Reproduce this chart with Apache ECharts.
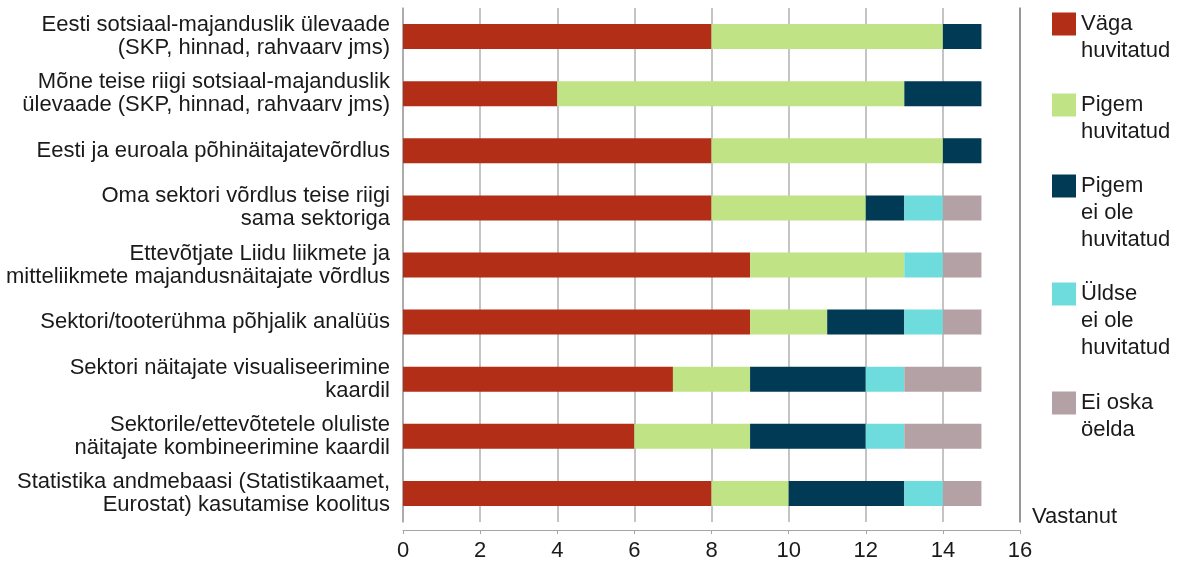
<!DOCTYPE html>
<html>
<head>
<meta charset="utf-8">
<script src="https://cdn.jsdelivr.net/npm/echarts@6/dist/echarts.min.js"></script>
<style>
  html, body { margin: 0; padding: 0; background: #ffffff; }
  #chart { width: 1184px; height: 562px; }
</style>
</head>
<body>
<div id="chart"></div>
<script>
// ---- data ----
const categories = [
  "Eesti sotsiaal-majanduslik ülevaade\n(SKP, hinnad, rahvaarv jms)",
  "Mõne teise riigi sotsiaal-majanduslik\nülevaade (SKP, hinnad, rahvaarv jms)",
  "Eesti ja euroala põhinäitajatevõrdlus",
  "Oma sektori võrdlus teise riigi\nsama sektoriga",
  "Ettevõtjate Liidu liikmete ja\nmitteliikmete majandusnäitajate võrdlus",
  "Sektori/tooterühma põhjalik analüüs",
  "Sektori näitajate visualiseerimine\nkaardil",
  "Sektorile/ettevõtetele oluliste\nnäitajate kombineerimine kaardil",
  "Statistika andmebaasi (Statistikaamet,\nEurostat) kasutamise koolitus"
];
const seriesNames = [
  "Väga\nhuvitatud",
  "Pigem\nhuvitatud",
  "Pigem\nei ole\nhuvitatud",
  "Üldse\nei ole\nhuvitatud",
  "Ei oska\nöelda"
];
const vagaHuvitatud    = [8, 4, 8, 8, 9, 9, 7, 6, 8];
const pigemHuvitatud   = [6, 9, 6, 4, 4, 2, 2, 3, 2];
const pigemEiOle       = [1, 2, 1, 1, 0, 2, 3, 3, 3];
const uldseEiOle       = [0, 0, 0, 1, 1, 1, 1, 1, 1];
const eiOska           = [0, 0, 0, 1, 1, 1, 2, 2, 1];
const xTicks = { min: 0, max: 16, interval: 2 };
const axisTitle = "Vastanut";

// ---- styling ----
const colors = ["#B22E17", "#C0E386", "#003A54", "#6EDBDC", "#B3A1A6"];
const FONT = "'Liberation Sans', Arial, sans-serif";
const values = [vagaHuvitatud, pigemHuvitatud, pigemEiOle, uldseEiOle, eiOska];

const LH = 27;
const iconCenters = [24, 105, 186, 294, 403];

const legends = seriesNames.map((name, i) => {
  const n = name.split("\n").length;
  return {
    data: [name],
    orient: "vertical",
    left: 1052,
    top: iconCenters[i] - (2 * n - 1) * LH / 2 + 11.5 - 11.5,
    padding: 0,
    itemWidth: 24,
    itemHeight: 23,
    icon: "rect",
    selectedMode: false,
    // blank lines above so that the first text line sits level with the square
    formatter: (nm) => " \n".repeat(n - 1) + nm,
    textStyle: {
      fontFamily: FONT,
      fontSize: 22,
      color: "#1a1a1a",
      lineHeight: LH
    }
  };
});

const chart = echarts.init(document.getElementById("chart"), null, { renderer: "canvas" });
chart.setOption({
  animation: false,
  backgroundColor: "#ffffff",
  color: colors,
  textStyle: { fontFamily: FONT },
  title: {
    text: axisTitle,
    left: 1032,
    top: 506,
    padding: 0,
    textStyle: { fontFamily: FONT, fontSize: 22, fontWeight: "normal", color: "#1a1a1a" }
  },
  legend: legends,
  grid: { left: 403, right: 164, top: 8, bottom: 40, containLabel: false },
  xAxis: {
    type: "value",
    min: xTicks.min,
    max: xTicks.max,
    interval: xTicks.interval,
    position: "bottom",
    offset: 8,
    axisLine: { show: true, lineStyle: { color: "#a6a6a6", width: 1 } },
    axisTick: { show: true, length: 4, lineStyle: { color: "#a6a6a6" } },
    axisLabel: { fontFamily: FONT, fontSize: 22, color: "#1a1a1a", margin: 10 },
    splitLine: { show: true, lineStyle: { color: "#b0b0b0", width: 1.5 } }
  },
  yAxis: [
    {
      type: "category",
      data: categories,
      inverse: true,
      axisLine: { show: true, lineStyle: { color: "#a6a6a6", width: 1.5 } },
      axisTick: { show: false },
      axisLabel: { fontFamily: FONT, fontSize: 22, lineHeight: 23, color: "#1a1a1a", margin: 13, align: "right" },
      splitLine: { show: false }
    },
    {
      type: "category",
      data: categories,
      inverse: true,
      position: "right",
      axisLine: { show: true, lineStyle: { color: "#888888", width: 1.5 } },
      axisTick: { show: false },
      axisLabel: { show: false },
      splitLine: { show: false }
    }
  ],
  series: seriesNames.map((name, i) => ({
    name: name,
    type: "bar",
    stack: "total",
    barWidth: 25,
    yAxisIndex: 0,
    data: values[i],
    itemStyle: { color: colors[i] }
  }))
});
</script>
</body>
</html>
